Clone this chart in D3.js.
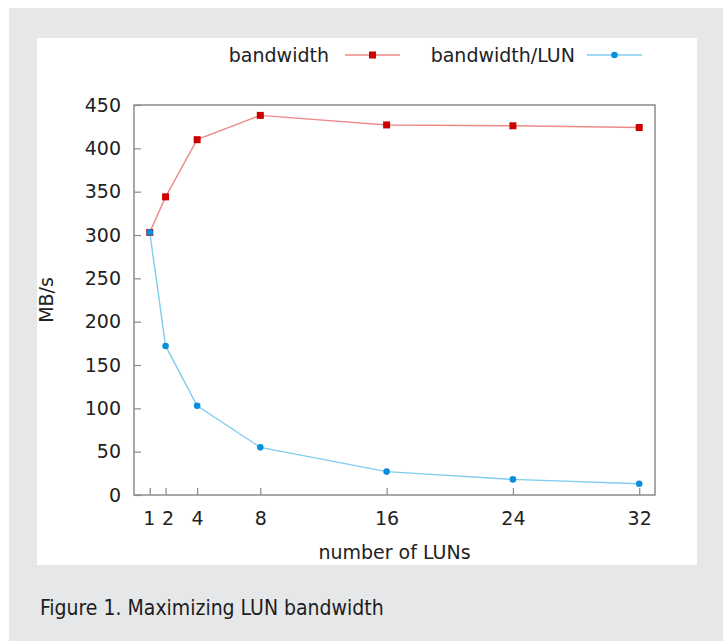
<!DOCTYPE html>
<html>
<head>
<meta charset="utf-8">
<script src="https://cdn.jsdelivr.net/npm/d3@7/dist/d3.min.js"></script>
<style>
  body { margin: 0; background: #fff; }
  svg { display: block; }
</style>
</head>
<body>
<script>
// values
const luns = [1, 2, 4, 8, 16, 24, 32];
const bandwidth = [303, 344, 410, 438, 427, 426, 424];
const bandwidthPerLun = [303, 172, 103, 55, 27, 18, 13];
const xTicks = [1, 2, 4, 8, 16, 24, 32];
const yTicks = [0, 50, 100, 150, 200, 250, 300, 350, 400, 450];
const seriesNames = ["bandwidth", "bandwidth/LUN"];

const width = 723, height = 641;
const svg = d3.select("body").append("svg")
    .attr("width", width)
    .attr("height", height);

// page background + white figure panel
svg.append("rect").attr("x", 9).attr("y", 8)
    .attr("width", width - 9).attr("height", height - 8)
    .attr("fill", "#e6e7e9");
svg.append("rect").attr("x", 37).attr("y", 38)
    .attr("width", 660).attr("height", 527)
    .attr("fill", "#fff");

const plot = {left: 134, right: 655, top: 105, bottom: 495};

let x = d3.scaleLinear().domain([0, 33]).range([plot.left, plot.right]);
let y = d3.scaleLinear().domain([0, 450]).range([plot.bottom, plot.top]);

const font = "'DejaVu Sans', sans-serif";
const fontSize = "19px";
const frameColor = "#8a8a8a";

// frame
svg.append("rect")
    .attr("x", plot.left).attr("y", plot.top)
    .attr("width", plot.right - plot.left)
    .attr("height", plot.bottom - plot.top)
    .attr("fill", "none")
    .attr("stroke", frameColor)
    .attr("stroke-width", 1.5);

// ticks point inward, gnuplot style
let xAxis = svg.append("g")
    .attr("transform", `translate(0,${plot.bottom})`)
    .call(d3.axisBottom(x).tickValues(xTicks).tickSize(-7).tickPadding(17));
let yAxis = svg.append("g")
    .attr("transform", `translate(${plot.left},0)`)
    .call(d3.axisLeft(y).tickValues(yTicks).tickSize(-7).tickPadding(13));

[xAxis, yAxis].forEach(ax => {
    ax.select(".domain").remove();
    ax.selectAll(".tick line").attr("stroke", frameColor).attr("stroke-width", 1.2);
    ax.selectAll(".tick text")
        .attr("fill", "#222")
        .style("font-family", font)
        .style("font-size", fontSize);
});
// 1 and 2 sit close together
xAxis.selectAll(".tick text")
    .attr("dx", d => d === 1 ? "-1" : d === 2 ? "2" : "0");

// axis titles
svg.append("text")
    .attr("transform", `translate(53,${(plot.top + plot.bottom) / 2}) rotate(-90)`)
    .attr("text-anchor", "middle")
    .attr("fill", "#222")
    .style("font-family", font).style("font-size", fontSize)
    .text("MB/s");
svg.append("text")
    .attr("x", (plot.left + plot.right) / 2).attr("y", 559)
    .attr("text-anchor", "middle")
    .attr("fill", "#222")
    .style("font-family", font).style("font-size", fontSize)
    .text("number of LUNs");

const redLine = "#ee8a8a", redMark = "#cc0000";
const blueLine = "#80cdef", blueMark = "#0a8fdc";

let line = d3.line().x(d => x(d[0])).y(d => y(d[1]));

const bwData = d3.zip(luns, bandwidth);
const perData = d3.zip(luns, bandwidthPerLun);

svg.append("path").datum(bwData)
    .attr("d", line).attr("fill", "none")
    .attr("stroke", redLine).attr("stroke-width", 1.4);
svg.append("path").datum(perData)
    .attr("d", line).attr("fill", "none")
    .attr("stroke", blueLine).attr("stroke-width", 1.4);

svg.selectAll(".bw").data(bwData).enter()
    .append("rect").attr("class", "bw")
    .attr("x", d => x(d[0]) - 3.5).attr("y", d => y(d[1]) - 3.5)
    .attr("width", 7).attr("height", 7)
    .attr("fill", redMark);
svg.selectAll(".per").data(perData).enter()
    .append("circle").attr("class", "per")
    .attr("cx", d => x(d[0])).attr("cy", d => y(d[1]))
    .attr("r", 3.3)
    .attr("fill", blueMark);

// legend
const legend = [
    {name: seriesNames[0], textEnd: 329, x0: 345, x1: 400, line: redLine, mark: redMark, shape: "square"},
    {name: seriesNames[1], textEnd: 575, x0: 587, x1: 642, line: blueLine, mark: blueMark, shape: "circle"}
];
const ly = 55;
legend.forEach(l => {
    svg.append("text")
        .attr("x", l.textEnd).attr("y", ly + 7)
        .attr("text-anchor", "end")
        .attr("fill", "#222")
        .style("font-family", font).style("font-size", fontSize)
        .text(l.name);
    svg.append("line")
        .attr("x1", l.x0).attr("x2", l.x1).attr("y1", ly).attr("y2", ly)
        .attr("stroke", l.line).attr("stroke-width", 1.4);
    let cx = (l.x0 + l.x1) / 2;
    if (l.shape === "square") {
        svg.append("rect").attr("x", cx - 3.5).attr("y", ly - 3.5)
            .attr("width", 7).attr("height", 7).attr("fill", l.mark);
    } else {
        svg.append("circle").attr("cx", cx).attr("cy", ly)
            .attr("r", 3.3).attr("fill", l.mark);
    }
});

// caption
svg.append("text")
    .attr("x", 40).attr("y", 615)
    .attr("fill", "#1d1d1d")
    .style("font-family", "'DejaVu Sans Condensed', 'Liberation Sans Narrow', sans-serif")
    .style("font-stretch", "condensed")
    .style("font-size", "21px")
    .text("Figure 1. Maximizing LUN bandwidth");
</script>
</body>
</html>
